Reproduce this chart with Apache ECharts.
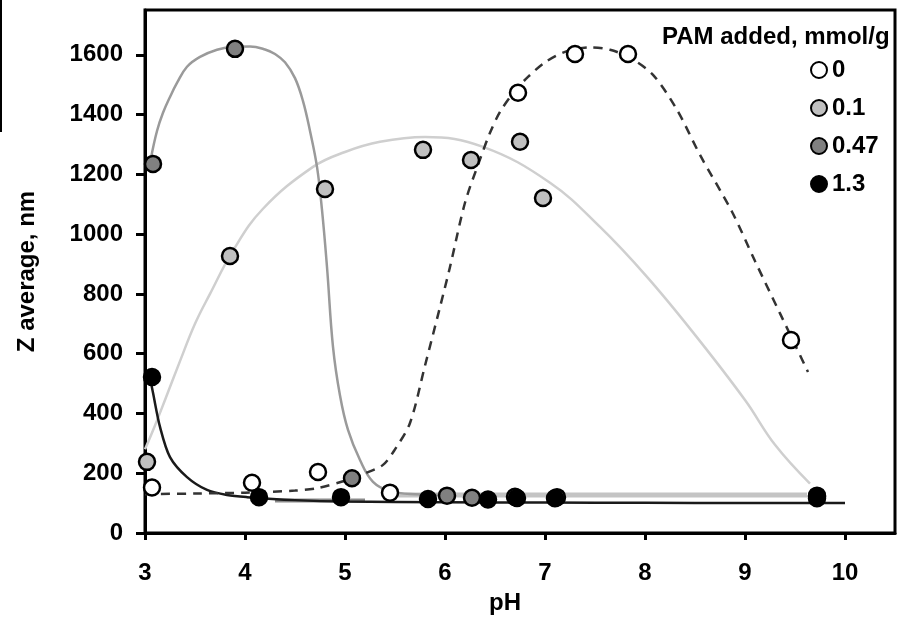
<!DOCTYPE html>
<html>
<head>
<meta charset="utf-8">
<script src="https://cdn.jsdelivr.net/npm/echarts@6/dist/echarts.min.js"></script>
<style>html,body{margin:0;padding:0;background:#fff}#c{width:898px;height:622px}</style>
</head>
<body>
<div id="c"></div>
<script>
// ---- data ----
var xTicks = [3, 4, 5, 6, 7, 8, 9, 10];
var yTicks = [0, 200, 400, 600, 800, 1000, 1200, 1400, 1600];
var legendTitle = 'PAM added, mmol/g';
var seriesNames = ['0', '0.1', '0.47', '1.3'];

// measured points (pH, Z average)
var pts0   = [[3.07,152],[4.07,168],[4.73,204],[5.45,135],[6.73,1473],[7.30,1603],[7.83,1603],[9.46,646]];
var pts01  = [[3.02,238],[3.85,927],[4.80,1151],[5.78,1282],[6.26,1248],[6.75,1309],[6.98,1121],[9.72,125]];
var pts047 = [[3.08,1235],[3.90,1620],[5.07,183],[6.02,125],[6.27,118],[6.70,121],[7.12,120],[9.72,122]];
var pts13  = [[3.07,522],[4.14,120],[4.96,120],[5.83,114],[6.43,112],[6.72,117],[7.10,116],[9.72,116]];

// fitted curves (pH, Z average)
var curve0X = [3.0,3.5,4.0,4.5,4.72,5.0,5.2,5.38,5.5,5.65,5.8,5.95,6.05,6.2,6.35,6.45,6.55,6.7,6.83,7.0,7.2,7.45,7.65,7.85,8.08,8.32,8.55,8.87,9.1,9.35,9.63];
var curve0Y = [130,132,135,142,150,175,200,228,280,368,560,756,890,1105,1250,1339,1409,1480,1526,1575,1610,1625,1617,1590,1533,1416,1265,1075,910,735,539];
var curve01X = [3.0,3.1,3.2,3.35,3.5,3.65,3.88,4.18,4.68,5.0,5.35,5.8,6.38,7.05,7.55,8.02,8.5,9.0,9.3,9.65];
var curve01Y = [280,360,445,575,700,800,945,1085,1225,1275,1309,1325,1292,1172,1024,857,663,445,295,165];
var curve047X = [3.06,3.12,3.18,3.25,3.32,3.42,3.55,3.72,3.88,4.05,4.2,4.3,4.4,4.5,4.58,4.65,4.72,4.77,4.82,4.88,4.95,5.03,5.15,5.28,5.45,5.7,6.0];
var curve047Y = [1255,1345,1406,1459,1506,1560,1593,1617,1627,1628,1618,1603,1575,1522,1445,1345,1225,1081,890,623,460,345,244,171,140,130,128];
var curve13X = [3.05,3.08,3.15,3.25,3.42,3.62,3.82,4.02,4.5,5.0,6.0,7.0,8.0,9.0,10.0];
var curve13Y = [520,469,355,254,187,144,127,120,110,105,103,102,101,100,100];
var bandLightX = [5.45, 9.62];
var bandLightY = [127, 127];
var bandGrayX = [4.3, 5.2];
var bandGrayY = [109, 109];

function zip(xs, ys) { return xs.map(function (x, i) { return [x, ys[i]]; }); }

var FONT = '"Liberation Sans", Arial, sans-serif';
var chart = echarts.init(document.getElementById('c'), null, {renderer: 'canvas'});

function lineSeries(name, data, color, width, type, smooth) {
  return {
    name: name, type: 'line', data: data, smooth: smooth, showSymbol: false, silent: true,
    lineStyle: {color: color, width: width, type: type}, z: 1
  };
}
function scatterSeries(name, data, fill) {
  return {
    name: name, type: 'scatter', data: data, symbol: 'circle', symbolSize: 16, z: 3,
    itemStyle: {color: fill, borderColor: '#000', borderWidth: 2.5, opacity: 1}
  };
}
function plain(v) { return String(v); }

chart.setOption({
  animation: false,
  backgroundColor: '#fff',
  grid: {left: 145, top: 10, right: 3, bottom: 89, show: true, borderColor: '#000', borderWidth: 3, backgroundColor: 'transparent'},
  xAxis: {
    type: 'value', min: 3, max: 10.5,
    name: 'pH', nameLocation: 'middle', nameGap: 58,
    nameTextStyle: {fontFamily: FONT, fontSize: 24, fontWeight: 'bold', color: '#000', padding: [0, 30, 0, 0]},
    axisLine: {show: true, lineStyle: {color: '#000', width: 3}},
    axisTick: {show: true, length: 7, lineStyle: {color: '#000', width: 3}, customValues: xTicks},
    axisLabel: {fontFamily: FONT, fontSize: 24, fontWeight: 'bold', color: '#000', margin: 28, customValues: xTicks, formatter: plain},
    splitLine: {show: false}
  },
  yAxis: {
    type: 'value', min: 0, max: 1750,
    name: 'Z average, nm', nameLocation: 'middle', nameGap: 106, nameRotate: 90,
    nameTextStyle: {fontFamily: FONT, fontSize: 24, fontWeight: 'bold', color: '#000'},
    axisLine: {show: true, lineStyle: {color: '#000', width: 3}},
    axisTick: {show: true, length: 9, lineStyle: {color: '#000', width: 3}, customValues: yTicks},
    axisLabel: {fontFamily: FONT, fontSize: 24, fontWeight: 'bold', color: '#000', margin: 22, customValues: yTicks, formatter: plain},
    splitLine: {show: false}
  },
  legend: {
    data: seriesNames, orient: 'vertical', left: 810, top: 58,
    itemWidth: 16, itemHeight: 16, itemGap: 14, padding: 0,
    textStyle: {fontFamily: FONT, fontSize: 24, fontWeight: 'bold', color: '#000'},
    selectedMode: false
  },
  graphic: [
    {type: 'text', left: 662, top: 25, style: {text: legendTitle, font: 'bold 24px ' + FONT, fill: '#000'}, z: 10},
    {type: 'line', shape: {x1: 1, y1: 0, x2: 1, y2: 132}, style: {stroke: '#000', lineWidth: 2}}
  ],
  series: [
    lineSeries('band-light', zip(bandLightX, bandLightY), '#c4c4c4', 5, 'solid', false),
    lineSeries('band-gray', zip(bandGrayX, bandGrayY), '#8a8a8a', 4, 'solid', false),
    lineSeries('fit 0.1', zip(curve01X, curve01Y), '#cfcfcf', 2.5, 'solid', 0.4),
    lineSeries('fit 0.47', zip(curve047X, curve047Y), '#9a9a9a', 2.5, 'solid', 0.4),
    lineSeries('fit 1.3', zip(curve13X, curve13Y), '#1a1a1a', 2.5, 'solid', 0.3),
    lineSeries('fit 0', zip(curve0X, curve0Y), '#333333', 2.5, [9, 7], 0.3),
    scatterSeries('0', pts0, '#ffffff'),
    scatterSeries('0.1', pts01, '#c0c0c0'),
    scatterSeries('0.47', pts047, '#808080'),
    scatterSeries('1.3', pts13, '#000000')
  ]
});
</script>
</body>
</html>
